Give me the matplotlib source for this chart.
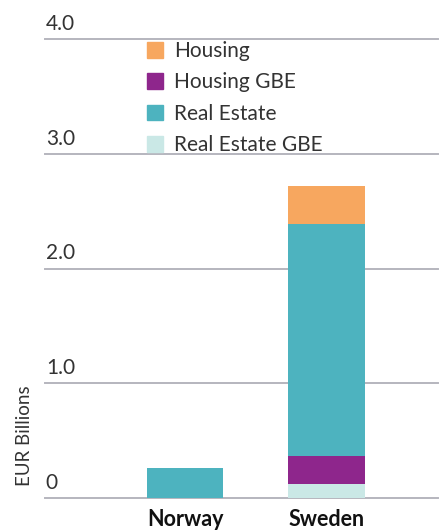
import matplotlib
matplotlib.use('Agg')
import matplotlib.pyplot as plt
from matplotlib.patches import Patch

# DATA (EUR BILLIONS)
COUNTRIES = ['Norway', 'Sweden']
REAL_ESTATE_GBE = [0.0, 0.12]
HOUSING_GBE = [0.0, 0.25]
REAL_ESTATE = [0.26, 2.02]
HOUSING = [0.0, 0.33]
Y_TICKS = [0, 1.0, 2.0, 3.0, 4.0]
Y_LABELS = ['0', '1.0', '2.0', '3.0', '4.0']

COLORS = {
    'Housing': '#F7A75F',
    'Housing GBE': '#8E268C',
    'Real Estate': '#4DB3BF',
    'Real Estate GBE': '#CAE8E6',
}

plt.rcParams['font.family'] = ['Lato', 'DejaVu Sans']
TEXT = '#333333'

fig = plt.figure(figsize=(4.41, 5.30), dpi=100)
ax = fig.add_axes([45 / 441, 32 / 530, 393 / 441, 459 / 530])

x = range(len(COUNTRIES))
w = 0.54
bottom = [0.0] * len(COUNTRIES)
series = [('Real Estate GBE', REAL_ESTATE_GBE), ('Housing GBE', HOUSING_GBE),
          ('Real Estate', REAL_ESTATE), ('Housing', HOUSING)]
for name, vals in series:
    ax.bar(x, vals, w, bottom=bottom, color=COLORS[name], linewidth=0, zorder=3)
    bottom = [b + v for b, v in zip(bottom, vals)]

ax.set_xlim(-0.993, 1.79)
ax.set_ylim(0, 4.0)

# GRIDLINES AND LABELS ABOVE THEM
for t, lab in zip(Y_TICKS, Y_LABELS):
    ax.axhline(t, color='#B6B6BE', linewidth=1.4, zorder=2, clip_on=False)
    ax.annotate(lab, xy=(0.002, t), xycoords=('axes fraction', 'data'),
                xytext=(0, 6.5), textcoords='offset points',
                ha='left', va='baseline', fontsize=15, color=TEXT)

for s in ax.spines.values():
    s.set_visible(False)
ax.set_yticks([])
ax.set_xticks(list(x))
ax.set_xticklabels(COUNTRIES, fontsize=15.5, fontweight='bold', color='#111111')
ax.tick_params(axis='x', length=0, pad=8)

fig.text(25 / 441, 1 - 436 / 530, 'EUR Billions', rotation=90, ha='center',
         va='center', fontsize=13.5, color=TEXT)

handles = [Patch(color=COLORS[n]) for n in ['Housing', 'Housing GBE', 'Real Estate', 'Real Estate GBE']]
labels = ['Housing', 'Housing GBE', 'Real Estate', 'Real Estate GBE']
leg = fig.legend(handles, labels, loc='upper left',
                 bbox_to_anchor=(147 / 441, 1 - 41 / 530), frameon=False,
                 fontsize=15, handlelength=0.78, handleheight=0.78,
                 handletextpad=0.5, labelspacing=0.55, borderpad=0,
                 borderaxespad=0)
for t in leg.get_texts():
    t.set_color(TEXT)

fig.savefig('out.png', dpi=100)
